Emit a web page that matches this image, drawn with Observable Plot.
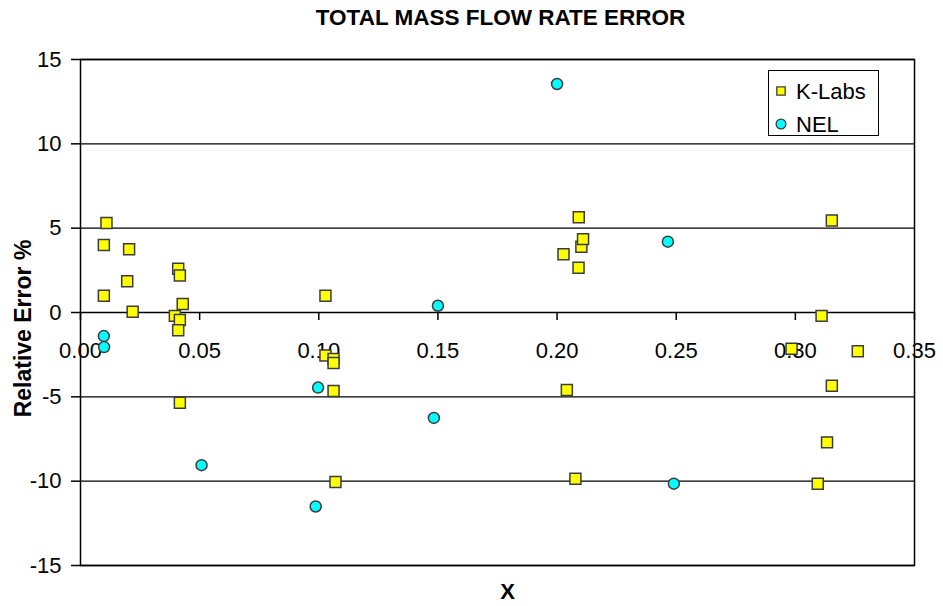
<!DOCTYPE html>
<html>
<head>
<meta charset="utf-8">
<script src="https://cdn.jsdelivr.net/npm/d3@7"></script>
<script src="https://cdn.jsdelivr.net/npm/@observablehq/plot@0.6"></script>
<style>
  html, body { margin: 0; padding: 0; background: #fff; }
  #chart { position: relative; width: 943px; height: 606px; font-family: "Liberation Sans", Arial, sans-serif; }
  #chart svg { display: block; }
  .legend { position: absolute; left: 768px; top: 70px; width: 111px; height: 66px;
            box-sizing: border-box; border: 1.3px solid #000; background: #fff; }
  .legend .item { position: absolute; left: 0; height: 26px; line-height: 26px; font-size: 22px; color: #000; white-space: nowrap; }
  .legend .item svg { position: absolute; top: 0; }
  .legend .item span { position: absolute; left: 27px; top: 0; }
</style>
</head>
<body>
<div id="chart"></div>
<script>
// K-Labs measurements: gas volume fraction X vs relative error (%)
const kLabsX = [0.0109, 0.0098, 0.0204, 0.0196, 0.0098, 0.0219, 0.0410, 0.0417, 0.0429, 0.0396, 0.0417,
                0.0410, 0.0417, 0.1028, 0.1028, 0.1062, 0.1062, 0.1062, 0.1070, 0.2027, 0.2090, 0.2102,
                0.2109, 0.2091, 0.2041, 0.2077, 0.2984, 0.3110, 0.3153, 0.3262, 0.3153, 0.3133, 0.3094];
const kLabsY = [5.3, 4.0, 3.75, 1.85, 1.0, 0.05, 2.6, 2.2, 0.5, -0.2, -0.45,
                -1.05, -5.35, 1.0, -2.55, -2.75, -3.0, -4.65, -10.05, 3.45, 2.65, 3.9,
                4.35, 5.65, -4.6, -9.85, -2.15, -0.2, 5.45, -2.3, -4.35, -7.7, -10.15];

// NEL measurements
const nelX = [0.0098, 0.0099, 0.0508, 0.0997, 0.0987, 0.1483, 0.1500, 0.2000, 0.2465, 0.2490];
const nelY = [-1.4, -2.05, -9.05, -4.45, -11.5, -6.25, 0.4, 13.55, 4.2, -10.15];

// Axis ticks
const xTicks = [0.00, 0.05, 0.10, 0.15, 0.20, 0.25, 0.30, 0.35];
const yTicks = [-15, -10, -5, 0, 5, 10, 15];

// Series styling
const seriesNames = ["K-Labs", "NEL"];
const seriesSymbols = ["square", "circle"];
const seriesFill = ["#ffff00", "#00ffff"];
const markerStroke = "#3c3c3c";

const titleText = "TOTAL MASS FLOW RATE ERROR";
const xLabel = "X";
const yLabel = "Relative Error %";

const width = 943, height = 606;
const margin = {top: 59, right: 29, bottom: 41, left: 80};
const xDomain = [0, 0.35], yDomain = [-15, 15];

const kLabs = kLabsX.map((x, i) => ({x, y: kLabsY[i]}));
const nel = nelX.map((x, i) => ({x, y: nelY[i]}));

// The x axis sits on the y = 0 line, so shift it up from the bottom edge.
const yScale = Plot.scale({y: {domain: yDomain, range: [height - margin.bottom, margin.top]}});
const xAxisShift = yScale.apply(0) - (height - margin.bottom);

const font = '"Liberation Sans", Arial, sans-serif';

const plot = Plot.plot({
  width, height,
  marginTop: margin.top, marginRight: margin.right, marginBottom: margin.bottom, marginLeft: margin.left,
  style: {fontFamily: font, fontSize: "22px", color: "#000", background: "#fff", overflow: "visible"},
  x: {domain: xDomain},
  y: {domain: yDomain},
  marks: [
    Plot.ruleY(yTicks, {stroke: "#000", strokeWidth: 1.3}),
    Plot.frame({stroke: "#000", strokeWidth: 1.5}),
    Plot.axisY({ticks: yTicks, tickFormat: d => String(d), tickSize: 9, tickPadding: 10,
                fontSize: 22, label: null, strokeWidth: 1.5}),
    Plot.axisX({ticks: xTicks, tickFormat: d3.format(".2f"), tickSize: 8, tickPadding: 22,
                fontSize: 22, label: null, strokeWidth: 1.5, dy: xAxisShift}),
    Plot.dot(kLabs, {x: "x", y: "y", symbol: seriesSymbols[0], r: 6.2,
                     fill: seriesFill[0], stroke: markerStroke, strokeWidth: 1.5}),
    Plot.dot(nel, {x: "x", y: "y", symbol: seriesSymbols[1], r: 5.5,
                   fill: seriesFill[1], stroke: markerStroke, strokeWidth: 1.5}),
    Plot.text([titleText], {frameAnchor: "top", lineAnchor: "middle", textAnchor: "middle",
                            dx: 3, dy: -41.5, fontSize: 22.5, fontWeight: "bold", fill: "#000"}),
    Plot.text([yLabel], {frameAnchor: "left", textAnchor: "middle", lineAnchor: "middle", rotate: -90,
                         dx: -57, dy: 16, fontSize: 23, fontWeight: "bold", fill: "#000"}),
    Plot.text([xLabel], {frameAnchor: "bottom", lineAnchor: "middle", textAnchor: "middle",
                         dx: 10, dy: 26, fontSize: 22, fontWeight: "bold", fill: "#000"})
  ]
});

const chart = document.getElementById("chart");
chart.appendChild(plot);

// Legend box in the upper right of the plot area
const legend = document.createElement("div");
legend.className = "legend";
const rowTops = [8, 41];
seriesNames.forEach((name, i) => {
  const item = document.createElement("div");
  item.className = "item";
  item.style.top = rowTops[i] + "px";
  const sw = d3.create("svg").attr("width", 22).attr("height", 26);
  const sym = d3.symbol(i === 0 ? d3.symbolSquare : d3.symbolCircle, i === 0 ? 70 : 75)();
  sw.append("path").attr("d", sym).attr("transform", "translate(12,12)")
    .attr("fill", seriesFill[i]).attr("stroke", markerStroke).attr("stroke-width", 1.3);
  item.appendChild(sw.node());
  const label = document.createElement("span");
  label.textContent = name;
  item.appendChild(label);
  legend.appendChild(item);
});
chart.appendChild(legend);
</script>
</body>
</html>
